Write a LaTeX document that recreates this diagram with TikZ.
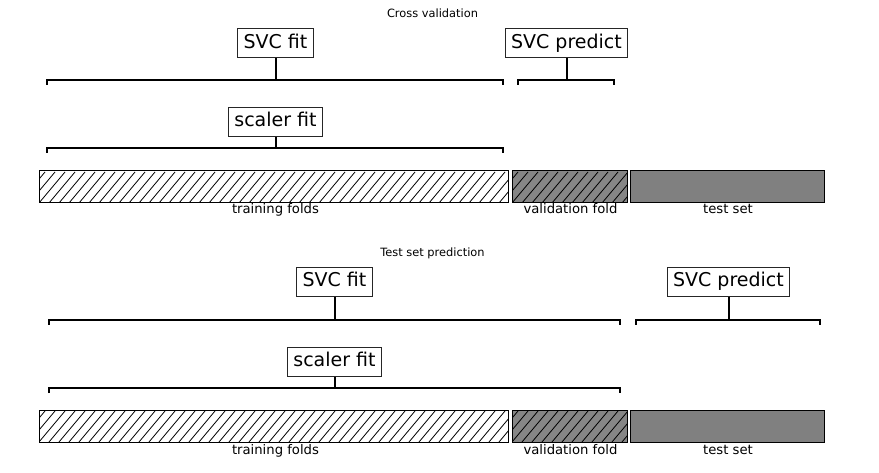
\documentclass[tikz,border=0pt]{standalone}
\usepackage{fontspec}
\setmainfont{DejaVu Sans}
\tikzset{
  stepbox/.style={draw=black!85, line width=1pt, fill=white,
    font=\fontsize{19}{23}\selectfont, text height=14.4pt, text depth=4.6pt,
    inner xsep=6pt, inner ysep=5pt},
  brk/.style={line width=2pt, black},
  stem/.style={line width=2pt, black},
  bar/.style={line width=1pt, minimum height=31pt, inner sep=0pt, anchor=north west},
  barline/.style={draw=black, line width=1pt},
  lbl/.style={font=\fontsize{13.2}{15}\selectfont, anchor=base, inner sep=0pt},
  ttl/.style={font=\fontsize{11.4}{13}\selectfont, anchor=base, inner sep=0pt},
  hatchline/.style={line width=0.8pt, black}
}
\newcommand{\hatchit}[1]{%
  \begin{scope}
    \clip (#1.south west) rectangle (#1.north east);
    \begin{scope}[shift={(#1.south west)}]
      \foreach \i in {0,...,52} \draw[hatchline] (\i*10-30,0) -- ++(26,-31);
    \end{scope}
  \end{scope}
  \draw[barline] (#1.south west) rectangle (#1.north east);
}
\begin{document}
\begin{tikzpicture}[x=1pt,y=-1pt]
\useasboundingbox[fill=white] (0,0) rectangle (879,473);

% ---------- top panel ----------
\node[ttl] (t1) at (432.5,18) {Cross validation};
\node[stepbox] (fit1) at (275.5,43.5) {SVC fit};
\node[stepbox] (pred1) at (566.5,43.5) {SVC predict};
\node[stepbox] (sc1) at (275.5,122) {scaler fit};

\coordinate (a1l) at (47,80);  \coordinate (a1r) at (503,80);
\coordinate (b1l) at (518,80); \coordinate (b1r) at (614,80);
\coordinate (c1l) at (47,148); \coordinate (c1r) at (503,148);
\draw[brk] (a1l) ++(0,5) -- (a1l) -- (a1r) -- ++(0,5);
\draw[brk] (b1l) ++(0,5) -- (b1l) -- (b1r) -- ++(0,5);
\draw[brk] (c1l) ++(0,5) -- (c1l) -- (c1r) -- ++(0,5);
\draw[stem] (fit1.south) -- (fit1.south |- a1l);
\draw[stem] (pred1.south) -- (pred1.south |- b1l);
\draw[stem] (sc1.south) -- (sc1.south |- c1l);

\node[bar, fill=white, minimum width=468pt] (tr1) at (39,171) {};
\hatchit{tr1}
\node[bar, fill=gray!105!black, minimum width=114pt] (va1) at (512,171) {};
\hatchit{va1}
\node[bar, fill=gray, minimum width=193pt] (te1) at (630,171) {};
\draw[barline] (te1.south west) rectangle (te1.north east);
\node[lbl] (ltr1) at (275.5,214) {training folds};
\node[lbl] (lva1) at (570.5,214) {validation fold};
\node[lbl] (lte1) at (728,214) {test set};

% ---------- bottom panel ----------
\node[ttl] (t2) at (432.5,257) {Test set prediction};
\node[stepbox] (fit2) at (334.5,282) {SVC fit};
\node[stepbox] (pred2) at (728.5,282) {SVC predict};
\node[stepbox] (sc2) at (334.5,362) {scaler fit};

\coordinate (a2l) at (49,320);  \coordinate (a2r) at (620,320);
\coordinate (b2l) at (636,320); \coordinate (b2r) at (820,320);
\coordinate (c2l) at (49,388);  \coordinate (c2r) at (620,388);
\draw[brk] (a2l) ++(0,5) -- (a2l) -- (a2r) -- ++(0,5);
\draw[brk] (b2l) ++(0,5) -- (b2l) -- (b2r) -- ++(0,5);
\draw[brk] (c2l) ++(0,5) -- (c2l) -- (c2r) -- ++(0,5);
\draw[stem] (fit2.south) -- (fit2.south |- a2l);
\draw[stem] (pred2.south) -- (pred2.south |- b2l);
\draw[stem] (sc2.south) -- (sc2.south |- c2l);

\node[bar, fill=white, minimum width=468pt] (tr2) at (39,410) {};
\hatchit{tr2}
\node[bar, fill=gray!105!black, minimum width=114pt] (va2) at (512,410) {};
\hatchit{va2}
\node[bar, fill=gray, minimum width=193pt] (te2) at (630,410) {};
\draw[barline] (te2.south west) rectangle (te2.north east);
\node[lbl] (ltr2) at (275.5,454) {training folds};
\node[lbl] (lva2) at (570.5,454) {validation fold};
\node[lbl] (lte2) at (728,454) {test set};
\end{tikzpicture}
\end{document}
